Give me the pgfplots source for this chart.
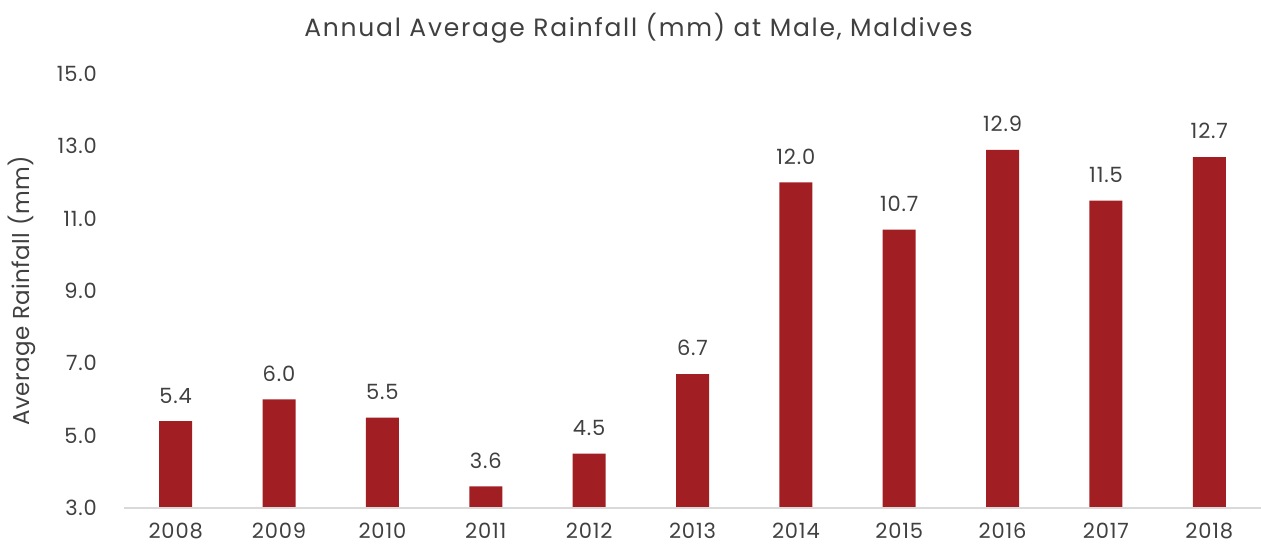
\documentclass[border=0pt]{standalone}
\usepackage{pgfplots}
\pgfplotsset{compat=1.18}
\usepackage{fontspec}
\setmainfont{Poppins}
\definecolor{barred}{HTML}{A11F22}
\definecolor{txt}{HTML}{404040}
\definecolor{axgray}{HTML}{D9D9D9}
\begin{document}
\begin{tikzpicture}
\begin{axis}[
  name=ax,
  scale only axis,
  width=568.5pt, height=217pt,
  xmin=-0.5, xmax=10.5,
  ymin=3, ymax=15,
  ytick={3,5,7,9,11,13,15},
  /pgf/number format/assume math mode=true,
  xtick=data,
  xticklabels={2008,2009,2010,2011,2012,2013,2014,2015,2016,2017,2018},
  axis line style={draw=none},
  axis x line*=bottom,
  axis y line=none,
  major tick length=0pt,
  tick label style={font=\fontsize{10.5}{12}\selectfont\addfontfeature{LetterSpace=4}, text=txt},
  xticklabel style={yshift=-4pt},
  ybar,
  bar width=16.5pt,
  nodes near coords,
  nodes near coords style={font=\fontsize{10.5}{12}\selectfont\addfontfeature{LetterSpace=4}, text=txt, yshift=5.5pt, /pgf/number format/fixed, /pgf/number format/fixed zerofill, /pgf/number format/precision=1, /pgf/number format/assume math mode=true},
  clip=false,
]
\addplot[fill=barred, draw=none] coordinates {
(0,5.4) (1,6.0) (2,5.5) (3,3.6) (4,4.5) (5,6.7) (6,12.0) (7,10.7) (8,12.9) (9,11.5) (10,12.7)};
\draw[axgray, line width=1pt] (rel axis cs:0,0) -- (rel axis cs:1,0);
\end{axis}
\foreach \v/\y in {3.0/0,5.0/2,7.0/4,9.0/6,11.0/8,13.0/10,15.0/12} {
  \node[anchor=east, font=\fontsize{10.5}{12}\selectfont\addfontfeature{LetterSpace=4}, text=txt] at ([xshift=-10pt, yshift=\y*18.0833pt]ax.south west) {\v};
}
\node[rotate=90, font=\fontsize{11.5}{13}\selectfont\addfontfeature{LetterSpace=2}, text=txt] at ([xshift=-51pt]ax.west) {Average Rainfall (mm)};
\node[font=\fontsize{12.5}{14}\selectfont\addfontfeature{LetterSpace=7}, text=txt] at ([xshift=-27pt, yshift=23pt]ax.north) {Annual Average Rainfall (mm) at Male, Maldives};
\pgfresetboundingbox
\path ([xshift=-62pt, yshift=-20.5pt]ax.south west) rectangle ([yshift=37pt]ax.north east);
\end{tikzpicture}
\end{document}
